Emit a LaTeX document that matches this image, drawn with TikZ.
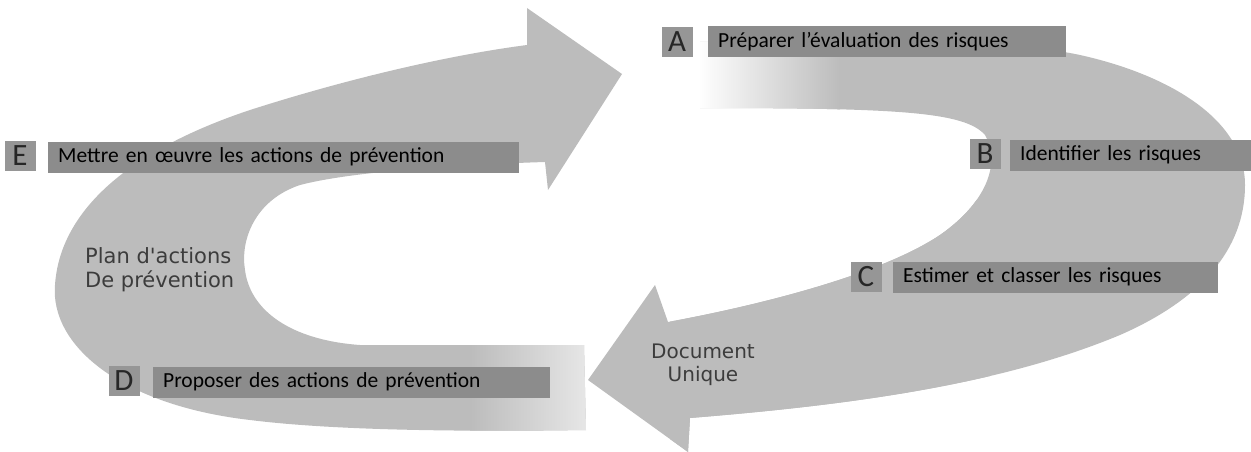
\documentclass[tikz,border=0pt]{standalone}
\usepackage{fontspec}
\setmainfont{Carlito}
\newfontfamily\plainsans{DejaVu Sans}
\definecolor{arrowgray}{RGB}{188,188,188}
\definecolor{bargray}{RGB}{140,140,140}
\definecolor{boxgray}{RGB}{150,150,150}
\definecolor{labelgray}{RGB}{60,60,60}
\tikzset{
  arrowshape/.style={fill=arrowgray, draw=none},
  letterbox/.style={fill=boxgray, minimum width=31pt, minimum height=30pt, inner sep=0pt,
    font=\fontsize{31}{32}\selectfont, text=black!85},
  barbox/.style={fill=bargray, anchor=west, minimum height=31pt, inner ysep=0pt, inner xsep=10pt,
    align=left, font=\fontsize{21.5}{23}\selectfont, text=black},
  flowlabel/.style={font=\plainsans\fontsize{21}{24}\selectfont, text=labelgray, inner sep=0pt}
}
\newcommand\leftarrowpath{(584,345) -- (586,430)
  .. controls (450,432) and (330,430) .. (250,420)
  .. controls (120,405) and (50,345) .. (55,285)
  .. controls (60,210) and (130,150) .. (250,110)
  .. controls (350,78) and (450,55) .. (527,45)
  -- (527,8) -- (622,74) -- (548,190) -- (545,162)
  .. controls (450,165) and (350,172) .. (300,185)
  .. controls (255,200) and (240,240) .. (245,270)
  .. controls (250,310) and (290,340) .. (360,345)
  -- cycle}
\newcommand\rightarrowpath{(700,42)
  .. controls (850,40) and (1000,38) .. (1080,55)
  .. controls (1170,75) and (1245,120) .. (1245,185)
  .. controls (1245,250) and (1200,300) .. (1120,335)
  .. controls (1000,385) and (850,405) .. (690,418)
  -- (688,452) -- (588,380) -- (655,285) -- (668,322)
  .. controls (760,305) and (880,275) .. (940,235)
  .. controls (990,200) and (1000,160) .. (985,135)
  .. controls (965,112) and (900,108) .. (700,108)
  -- cycle}
\begin{document}
\begin{tikzpicture}[x=1pt,y=-1pt]
\useasboundingbox (0,0) rectangle (1251,452);
% left arrow (C shape, pointing right at top)
\fill[arrowshape] \leftarrowpath;
\begin{scope}
  \clip \leftarrowpath;
  \shade[left color=arrowgray, right color=arrowgray!35!white] (470,335) rectangle (590,440);
\end{scope}
% right arrow (pointing left at bottom)
\fill[arrowshape] \rightarrowpath;
\begin{scope}
  \clip \rightarrowpath;
  \shade[left color=white, right color=arrowgray] (698,30) rectangle (840,120);
  \shade[left color=arrowgray, middle color=arrowgray!55!white, right color=arrowgray] (670,200) rectangle (990,452);
\end{scope}
% bars
\node[barbox, text width=451pt] (ebar) at (48,157) {Mettre en œuvre les actions de prévention};
\node[barbox, text width=377pt] (dbar) at (153,382) {Proposer des actions de prévention};
\node[barbox, text width=338pt] (abar) at (708,42) {Préparer l’évaluation des risques};
\node[barbox, text width=221pt] (bbar) at (1010,155) {Identifier les risques};
\node[barbox, text width=305pt] (cbar) at (893,277) {Estimer et classer les risques};
% letter boxes
\node[letterbox] (abox) at (677,42) {A};
\node[letterbox] (bbox) at (985,154) {B};
\node[letterbox] (cbox) at (866,277) {C};
\node[letterbox] (dbox) at (124,381) {D};
\node[letterbox] (ebox) at (20,156) {E};
% labels
\node[flowlabel, anchor=west, align=left] (plan) at (85,270) {Plan d'actions\\De prévention};
\node[flowlabel, align=center, font=\plainsans\fontsize{20}{23}\selectfont] (docu) at (703,365) {Document\\Unique};
\end{tikzpicture}
\end{document}
